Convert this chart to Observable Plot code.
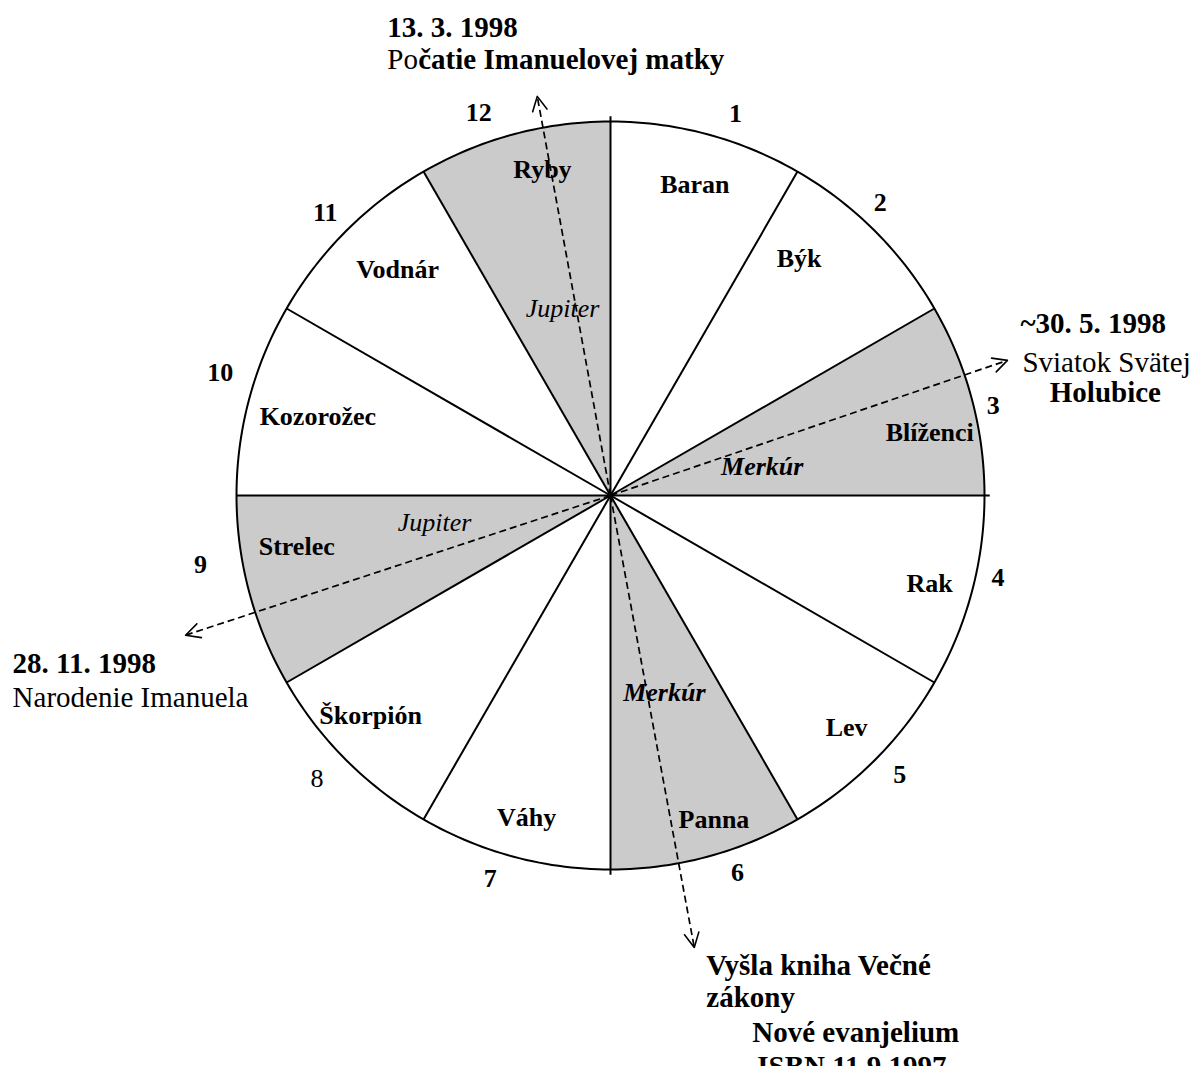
<!DOCTYPE html>
<html><head><meta charset="utf-8">
<script src="https://cdn.jsdelivr.net/npm/d3@7"></script>
<script src="https://cdn.jsdelivr.net/npm/@observablehq/plot@0.6"></script>
<style>body{margin:0;background:#fff}#chart svg{display:block}</style>
</head><body><div id="chart"></div>
<script>
// ---------- DATA ----------
const signs = ["Baran","Býk","Blíženci","Rak","Lev","Panna","Váhy","Škorpión","Strelec","Kozorožec","Vodnár","Ryby"];
const houseNumbers = ["1","2","3","4","5","6","7","8","9","10","11","12"];
const shadedSigns = ["Blíženci","Panna","Strelec","Ryby"];
const planetNames = ["Merkúr","Merkúr","Jupiter","Jupiter"];
const planetSigns = ["Blíženci","Panna","Strelec","Ryby"];
const eventAngles = [349.6, 71.2, 251.8, 169.5];      // degrees clockwise from the top
const eventReach = [1.085, 1.121, 1.196, 1.229];       // arrow length in circle radii
const eventTexts = [
  ["13. 3. 1998", "Po", "čatie Imanuelovej matky"],
  ["~30. 5. 1998", "Sviatok Svätej", "Holubice"],
  ["28. 11. 1998", "Narodenie Imanuela"],
  ["Vyšla kniha Večné", "zákony", "Nové evanjelium", "ISBN 11.9.1997"]
];

// ---------- LAYOUT ----------
const W = 1193, H = 1066, CX = 610, CY = 495, R = 374;
const signLabelPos = [[15.2,.86],[38.5,.81],[78.8,.87],[105.4,.885],[134.5,.885],[162.3,.91],
                      [194.6,.89],[227.5,.87],[260.8,.85],[285,.81],[316.7,.83],[348.2,.89]];
const numberPos = [[18.1,1.075],[42.7,1.064],[76.8,1.051],[102,1.059],[134,1.075],[161.4,1.064],
                   [197.4,1.075],[226,1.091],[260.4,1.112],[287.5,1.094],[314.8,1.075],[341,1.083]];
const numberBold = [1,1,1,1,1,1,1,0,1,1,1,1];
const planetPos = [[79.2,.413],[164.7,.546],[261.3,.476],[345.6,.516]];
const planetWeight = ["bold","bold","normal","normal"];
// per text line: [dx px from arrow tip, baseline dy px, anchor, bold]
const eventTextLayout = [
  [[-150,-59,"start",1],[-150,-27,"start",0],[-119,-27,"start",1]],
  [[13,-27,"start",1],[15,12,"start",0],[98,42,"middle",1]],
  [[-173,38,"start",1],[-173,72,"start",0]],
  [[12,28,"start",1],[12,60,"start",1],[58,95,"start",1],[63,129,"start",1]]
];
const labelSize = 26, annotSize = 29;

// ---------- GEOMETRY ----------
const rad = d => d * Math.PI / 180;
const polar = (deg, r) => ({x: r * Math.sin(rad(deg)), y: r * Math.cos(rad(deg))});

const sectorPts = [];
shadedSigns.forEach(s => {
  const i = signs.indexOf(s);
  sectorPts.push({sign: s, ...polar(0, 0)});
  for (let a = i * 30; a <= i * 30 + 30; a += 1) sectorPts.push({sign: s, ...polar(a, 1)});
});
const circlePts = d3.range(0, 361, 1).map(a => polar(a, 1));
const radials = d3.range(12).map(k => ({...polar(k * 30, [0, 3, 6].includes(k) ? 1.014 : 1)}));

const events = eventAngles.map((a, i) => ({i, a, ...polar(a, eventReach[i])}));
const headLines = [];
events.forEach(e => {
  const wing = 16 / R;
  const w = off => {
    const back = rad(e.a + 180 + off);
    return {z: e.i, x: e.x + wing * Math.sin(back), y: e.y + wing * Math.cos(back)};
  };
  headLines.push(w(-27), {z: e.i, x: e.x, y: e.y}, w(27));
});

const signLabels = signs.map((s, i) => ({text: s, ...polar(...signLabelPos[i])}));
const numberLabels = houseNumbers.map((n, i) => ({text: n, bold: numberBold[i], ...polar(...numberPos[i])}));
const planetLabels = planetNames.map((p, i) => ({text: p, weight: planetWeight[i], ...polar(...planetPos[i])}));
const annot = [];
eventTexts.forEach((lines, i) => lines.forEach((t, j) => {
  const [dx, dy, anchor, bold] = eventTextLayout[i][j];
  annot.push({text: t, anchor, bold, x: events[i].x + dx / R, y: events[i].y - dy / R});
}));

const font = "'Liberation Serif', 'Times New Roman', serif";
const textOpts = {fontFamily: font, fill: "black"};

const chart = Plot.plot({
  width: W, height: H, margin: 0,
  x: {domain: [-CX / R, (W - CX) / R], range: [0, W], axis: null},
  y: {domain: [-(H - CY) / R, CY / R], range: [H, 0], axis: null},
  style: {background: "white", fontFamily: font},
  marks: [
    Plot.line(sectorPts, {x: "x", y: "y", z: "sign", fill: "#cbcbcb", stroke: "none", curve: "linear"}),
    Plot.line(circlePts, {x: "x", y: "y", stroke: "black", strokeWidth: 2}),
    Plot.link(radials, {x1: 0, y1: 0, x2: "x", y2: "y", stroke: "black", strokeWidth: 2}),
    Plot.link(events, {x1: 0, y1: 0, x2: "x", y2: "y", stroke: "black", strokeWidth: 1.7, strokeDasharray: "7,4"}),
    Plot.line(headLines, {x: "x", y: "y", z: "z", stroke: "black", strokeWidth: 1.6}),
    Plot.text(signLabels, {x: "x", y: "y", text: "text", fontSize: labelSize, fontWeight: "bold", ...textOpts}),
    Plot.text(numberLabels.filter(d => d.bold), {x: "x", y: "y", text: "text", fontSize: labelSize, fontWeight: "bold", ...textOpts}),
    Plot.text(numberLabels.filter(d => !d.bold), {x: "x", y: "y", text: "text", fontSize: labelSize, fontWeight: "normal", ...textOpts}),
    Plot.text(planetLabels.filter(d => d.weight === "bold"), {x: "x", y: "y", text: "text", fontSize: labelSize, fontStyle: "italic", fontWeight: "bold", ...textOpts}),
    Plot.text(planetLabels.filter(d => d.weight !== "bold"), {x: "x", y: "y", text: "text", fontSize: labelSize, fontStyle: "italic", ...textOpts}),
    Plot.text(annot.filter(d => d.bold && d.anchor === "start"), {x: "x", y: "y", text: "text", fontSize: annotSize, fontWeight: "bold", textAnchor: "start", lineAnchor: "bottom", ...textOpts}),
    Plot.text(annot.filter(d => d.bold && d.anchor === "middle"), {x: "x", y: "y", text: "text", fontSize: annotSize, fontWeight: "bold", textAnchor: "middle", lineAnchor: "bottom", ...textOpts}),
    Plot.text(annot.filter(d => !d.bold), {x: "x", y: "y", text: "text", fontSize: annotSize, textAnchor: "start", lineAnchor: "bottom", ...textOpts})
  ]
});
document.getElementById("chart").appendChild(chart);
</script></body></html>
